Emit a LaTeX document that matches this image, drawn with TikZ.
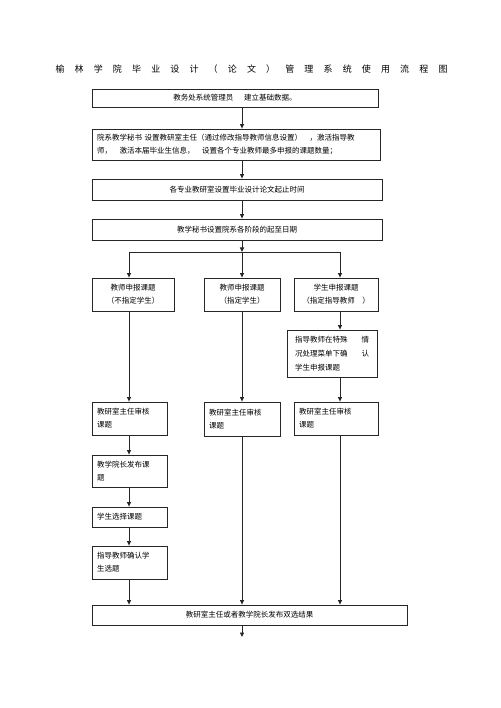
\documentclass[tikz,border=0pt]{standalone}
\usepackage{fontspec}
\setmainfont{Noto Sans CJK SC}
\usetikzlibrary{arrows.meta}
\begin{document}
\begin{tikzpicture}[x=1pt,y=-1pt,
  box/.style={draw=black!85, line width=0.8pt, rectangle, inner xsep=5pt, inner ysep=0pt,
    font=\fontsize{7.5}{13}\selectfont},
  conn/.style={draw=black!85, line width=0.9pt},
  arr/.style={conn, -{Triangle[length=4.5pt,width=4pt]}},
  ttl/.style={font=\fontsize{9}{9}\selectfont, inner sep=0pt}
]
\useasboundingbox (0,0) rectangle (500,708);
% title
\foreach \c [count=\i from 0] in {榆,林,学,院,毕,业,设,计,（,论,文,）,管,理,系,统,使,用,流,程,图}
  \node[ttl] (t\i) at ({60+\i*19.15},69) {\c};

% column coordinates
\coordinate (xl) at (129,0);
\coordinate (xc) at (242,0);
\coordinate (xr) at (340,0);

% boxes
\node[box, minimum width=286pt, minimum height=18pt, text width=276pt, align=center] (b1) at (235,98)
  {教务处系统管理员\hspace{11pt}建立基础数据。};
\node[box, minimum width=288pt, minimum height=31pt, text width=278pt, align=left] (b2) at (236,144.5)
  {院系教学秘书 设置教研室主任（通过修改指导教师信息设置）　，激活指导教\\师，　激活本届毕业生信息，　设置各个专业教师最多申报的课题数量；};
\node[box, minimum width=290pt, minimum height=21pt, text width=280pt, align=center] (b3) at (237,189.5)
  {各专业教研室设置毕业设计论文起止时间};
\node[box, minimum width=290pt, minimum height=21pt, text width=280pt, align=center] (b4) at (237,229.5)
  {教学秘书设置院系各阶段的起至日期};

\node[box, minimum width=82pt, minimum height=33pt, text width=72pt, align=center] (A) at (133,294.5)
  {教师申报课题\\（不指定学生）};
\node[box, minimum width=76pt, minimum height=33pt, text width=66pt, align=center] (B) at (242,294.5)
  {教师申报课题\\（指定学生）};
\node[box, minimum width=84pt, minimum height=33pt, text width=74pt, align=center] (C) at (336,294.5)
  {学生申报课题\\（指定指导教师　）};
\node[box, minimum width=90pt, minimum height=47pt, text width=74pt, inner xsep=8pt, align=left,
  font=\fontsize{7.5}{14}\selectfont] (D) at (332,353.5)
  {指导教师在特殊\hfill 情\\况处理菜单下确\hfill 认\\学生申报课题};

\node[box, minimum width=75pt, minimum height=33pt, text width=65pt, align=left] (E) at (129.5,418.5)
  {教研室主任审核\\课题};
\node[box, minimum width=76pt, minimum height=34pt, text width=66pt, align=left] (F) at (242,419)
  {教研室主任审核\\课题};
\node[box, minimum width=84pt, minimum height=33pt, text width=74pt, align=left] (G) at (336,418.5)
  {教研室主任审核\\课题};
\node[box, minimum width=75pt, minimum height=32pt, text width=65pt, align=left] (H) at (129.5,471)
  {教学院长发布课\\题};
\node[box, minimum width=75pt, minimum height=20pt, text width=65pt, align=left] (I) at (129.5,517)
  {学生选择课题};
\node[box, minimum width=75pt, minimum height=33pt, text width=65pt, align=left] (J) at (129.5,562.5)
  {指导教师确认学\\生选题};
\node[box, minimum width=315pt, minimum height=20pt, text width=305pt, align=center] (K) at (249.5,615)
  {教研室主任或者教学院长发布双选结果};

% connectors
\draw[arr] (b1.south -| xc) -- (b2.north -| xc);
\draw[arr] (b2.south -| xc) -- (b3.north -| xc);
\draw[arr] (b3.south -| xc) -- (b4.north -| xc);
\coordinate (jn) at (242,252);
\draw[arr] (b4.south -| xc) -- (jn);
\draw[conn] (jn -| xl) -- (jn -| xr);
\draw[arr] (jn -| xl) -- (A.north -| xl);
\draw[arr] (jn) -- (B.north -| xc);
\draw[arr] (jn -| xr) -- (C.north -| xr);
\draw[arr] (C.south -| xr) -- (D.north -| xr);
\draw[arr] (A.south -| xl) -- (E.north -| xl);
\draw[arr] (B.south -| xc) -- (F.north -| xc);
\draw[arr] (D.south -| xr) -- (G.north -| xr);
\draw[arr] (E.south -| xl) -- (H.north -| xl);
\draw[arr] (H.south -| xl) -- (I.north -| xl);
\draw[arr] (I.south -| xl) -- (J.north -| xl);
\draw[arr] (J.south -| xl) -- (K.north -| xl);
\draw[arr] (F.south -| xc) -- (K.north -| xc);
\draw[arr] (G.south -| xr) -- (K.north -| xr);
\coordinate (endp) at (242,637);
\draw[arr] (K.south -| xc) -- (endp);
\end{tikzpicture}
\end{document}
